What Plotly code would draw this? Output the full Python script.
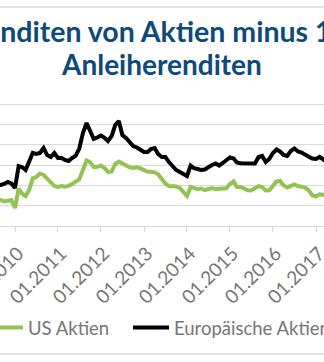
import plotly.graph_objects as go
import pandas as pd

# ---- data ----
months = pd.date_range("2009-08-01", "2017-04-01", freq="MS")

us_aktien = [
    2.56, 2.56, 2.41, 2.51, 2.56,
    1.77, 3.69, 3.20, 2.95, 3.54, 4.69, 4.82, 5.16, 5.02, 4.66, 4.43, 3.93,
    3.84, 3.93, 3.87, 3.95, 4.13, 4.33, 4.59, 5.51, 6.44, 6.29, 5.80, 5.82,
    5.95, 5.70, 5.31, 5.36, 6.10, 6.34, 6.15, 6.00, 5.77, 5.70, 5.77, 5.66,
    5.51, 5.34, 5.34, 5.28, 5.09, 4.62, 4.18, 3.93, 3.93, 3.89, 3.74, 3.39,
    2.95, 3.84, 3.69, 3.62, 3.69, 3.54, 3.64, 3.71, 3.64, 3.66, 3.71, 3.71,
    4.13, 4.38, 3.84, 3.84, 3.69, 3.52, 3.49, 3.69, 3.93, 3.84, 3.49, 3.51,
    3.93, 4.38, 4.43, 3.98, 3.79, 3.89, 4.08, 3.93, 3.86, 3.77, 3.49, 3.00,
    2.90, 3.12, 3.08, 3.00,
]

eu_aktien = [
    4.03, 4.03, 4.13, 4.33, 4.18,
    3.74, 5.90, 5.80, 5.51, 6.39, 7.18, 7.08, 7.18, 7.67, 6.98, 6.79, 7.18,
    6.69, 6.69, 6.49, 6.39, 6.69, 6.93, 7.62, 9.15, 10.13, 9.44, 8.56, 8.70,
    8.90, 8.66, 8.36, 8.85, 9.93, 10.33, 8.95, 8.66, 8.21, 7.87, 7.72, 7.48,
    7.28, 7.28, 7.57, 7.67, 7.08, 6.79, 6.79, 6.29, 5.85, 5.51, 5.31, 5.11,
    4.92, 5.95, 5.68, 5.61, 5.51, 5.56, 5.80, 6.00, 6.15, 5.95, 6.20, 6.44,
    6.74, 6.64, 6.25, 6.17, 6.17, 6.17, 6.15, 6.15, 6.79, 6.89, 6.29, 6.59,
    7.18, 7.52, 7.33, 6.98, 6.89, 7.38, 7.62, 7.33, 7.23, 6.98, 6.82, 6.64,
    6.59, 6.79, 6.54, 6.32,
]

series_names = ["US Aktien", "Europäische Aktien"]
title_lines = ["Gewinnrenditen von Aktien minus 10-jährige", "Anleiherenditen"]

# ---- layout geometry ----
W, H = 324, 362
T, B = 100, 136
PLOT_H = H - T - B


def py(px):
    """pixel row -> paper y"""
    return (H - B - px) / PLOT_H


def px_x(px):
    """pixel column -> paper x"""
    return px / W


GREEN = "#92c353"
BLACK = "#000000"
GRID = "#d9d9d9"
TICK_GRAY = "#767676"
TITLE_BLUE = "#0e4a7b"

fig = go.Figure()
fig.add_trace(go.Scatter(x=months, y=us_aktien, mode="lines", name=series_names[0],
                         line=dict(color=GREEN, width=4), legend="legend"))
fig.add_trace(go.Scatter(x=months, y=eu_aktien, mode="lines", name=series_names[1],
                         line=dict(color=BLACK, width=4), legend="legend2"))

legend_common = dict(orientation="h", xanchor="left", y=py(328), yanchor="middle",
                     font=dict(family="Lato", size=18.5, color=TICK_GRAY),
                     itemwidth=36, bgcolor="rgba(0,0,0,0)", borderwidth=0)

fig.update_layout(
    width=W, height=H,
    margin=dict(l=0, r=0, t=T, b=B, pad=0, autoexpand=False),
    paper_bgcolor="white", plot_bgcolor="white",
    showlegend=True,
    legend=dict(x=px_x(-18), **legend_common),
    legend2=dict(x=px_x(128), **legend_common),
    xaxis=dict(type="date", range=["2009-08-26 14:00", "2017-03-09 23:00"],
               tick0="2010-01-01", dtick="M12", tickformat="%m.%Y", tickangle=-45,
               ticklabeloverflow="allow", automargin=False, ticklabelstandoff=3,
               ticklabelshift=3,
               showgrid=False, showline=True, linecolor=GRID, linewidth=1,
               ticks="outside", ticklen=5, tickcolor=GRID,
               tickfont=dict(family="Lato", size=19, color=TICK_GRAY)),
    yaxis=dict(range=[0, 12 * PLOT_H / 122], dtick=2, tick0=0, showgrid=True,
               automargin=False,
               gridcolor=GRID, gridwidth=1, zeroline=False, showticklabels=False),
    annotations=[
        dict(text="<b>" + title_lines[0] + "</b>", xref="paper", yref="paper",
             x=px_x(-125), y=py(31), xanchor="left", yanchor="middle", showarrow=False,
             font=dict(family="Lato", size=28.5, color=TITLE_BLUE)),
        dict(text="<b>" + title_lines[1] + "</b>", xref="paper", yref="paper",
             x=px_x(161.5), y=py(64), xanchor="center", yanchor="middle", showarrow=False,
             font=dict(family="Lato", size=28, color=TITLE_BLUE)),
    ],
    shapes=[
        dict(type="line", xref="paper", yref="paper", x0=-0.1, x1=1.1, y0=py(7), y1=py(7),
             line=dict(color=GRID, width=1.3)),
        dict(type="line", xref="paper", yref="paper", x0=-0.1, x1=1.1, y0=py(354), y1=py(354),
             line=dict(color=GRID, width=1.3)),
    ],
)

fig.write_html("out.html")
